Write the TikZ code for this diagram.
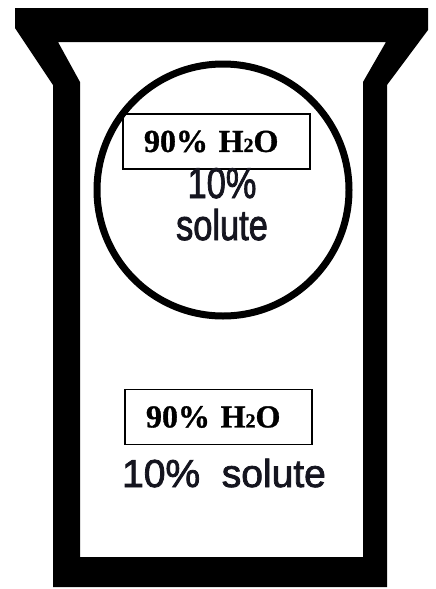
\documentclass[tikz,border=0pt]{standalone}
\usepackage{fontspec}
\setmainfont{Liberation Serif}[BoldFeatures={FakeBold=1}]
\newfontfamily\solutefont{Liberation Sans}[FakeBold=2]
\usepackage{xcolor}
\usetikzlibrary{positioning}
\definecolor{inkblue}{HTML}{15151F}
\newcommand{\subtwo}{{\fontsize{20}{20}\selectfont 2}}
\begin{document}
\begin{tikzpicture}[x=1pt, y=-1pt,
        tag/.style={draw, line width=1.6pt, inner xsep=21pt, text width=145pt, minimum height=55pt,
                    align=left, font=\fontsize{32}{32}\selectfont\bfseries},
        solute/.style={text=inkblue, inner sep=0pt, anchor=base, font=\solutefont\fontsize{#1}{#1}\selectfont}]
      \useasboundingbox[fill=white] (0,0) rectangle (436,589);
      % beaker walls
      \fill[even odd rule] (15,8) -- (428,8) -- (428,30) -- (387,85) -- (387,587) -- (53,587) -- (53,85) -- (15,28) -- cycle
            (58,42) -- (386,42) -- (363,82) -- (363,557) -- (80,557) -- (80,82) -- cycle;
      % cell
      \node[draw, circle, line width=7pt, minimum size=252pt] (cell) at (223,190) {};
      \node[tag] (cellwater) at (216.5,141.5) {90\% H\subtwo O};
      \node[solute=43] (cellpct) at (222,198) {\scalebox{0.8}[1]{10\%}};
      \node[solute=43] (cellsolute) at (222,240) {\scalebox{0.8}[1]{solute}};
      % surrounding solution
      \node[tag] (bathwater) at (218.5,417) {90\% H\subtwo O};
      \node[solute=39] (bathsolute) at (224,487) {10\%~~solute};
    \end{tikzpicture}
\end{document}
